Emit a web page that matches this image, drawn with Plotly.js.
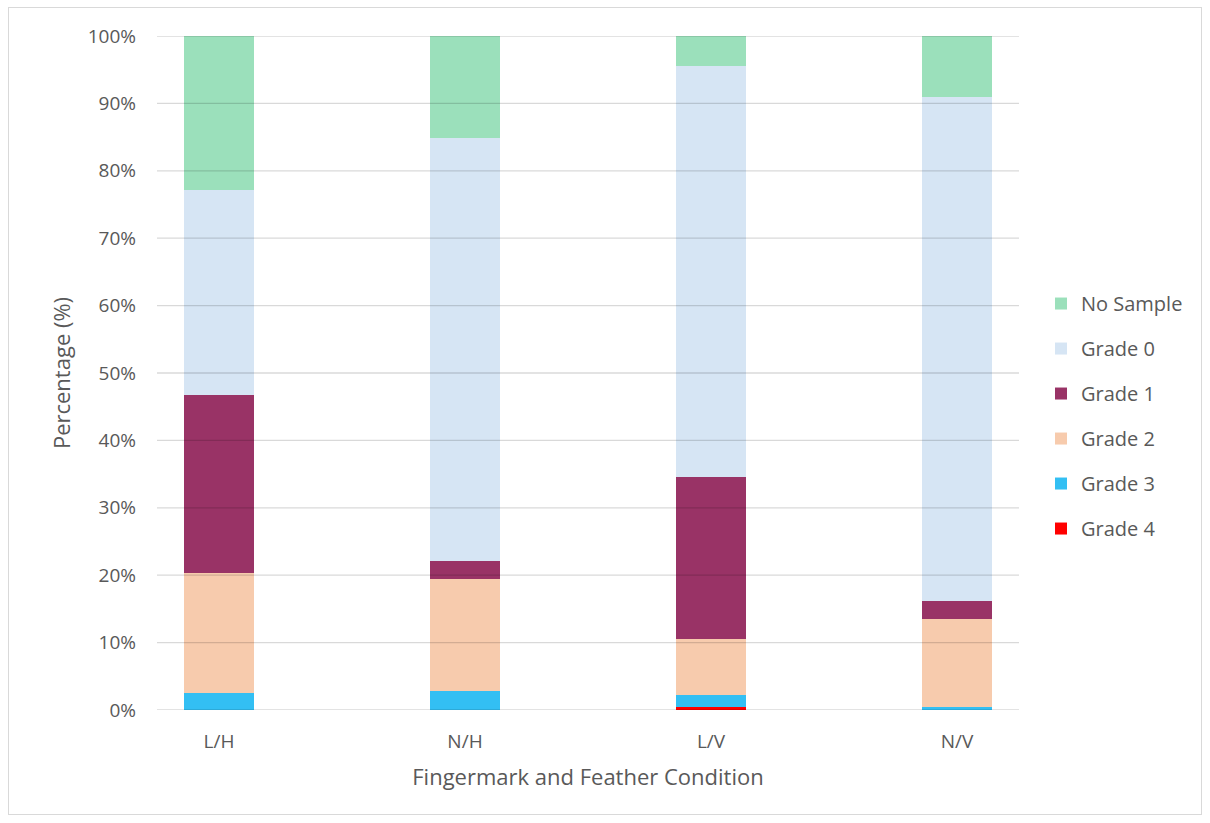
<!DOCTYPE html>
<html>
<head>
<meta charset="utf-8">
<script src="https://cdn.plot.ly/plotly-3.0.1.min.js"></script>
<style>
  html, body { margin: 0; padding: 0; background: #fff; }
  #wrap { position: relative; width: 1210px; height: 823px; }
  #chart { width: 1210px; height: 823px; }
  #frame { position: absolute; left: 8px; top: 7px; width: 1194px; height: 808px;
           border: 1px solid #d9d9d9; pointer-events: none; box-sizing: border-box; }
</style>
</head>
<body>
<div id="wrap">
  <div id="chart"></div>
  <div id="frame"></div>
</div>
<script>
const categories = ["L/H", "N/H", "L/V", "N/V"];
const grade4   = [0.0, 0.0, 0.4, 0.0];
const grade3   = [2.5, 2.8, 1.8, 0.4];
const grade2   = [17.8, 16.6, 8.3, 13.1];
const grade1   = [26.5, 2.7, 24.1, 2.7];
const grade0   = [30.3, 62.7, 60.9, 74.8];
const noSample = [22.9, 15.2, 4.5, 9.0];
const yTickVals = [0, 10, 20, 30, 40, 50, 60, 70, 80, 90, 100];
const yTickText = ["0%", "10%", "20%", "30%", "40%", "50%", "60%", "70%", "80%", "90%", "100%"];

const series = [
  { name: "Grade 4",   y: grade4,   color: "#FF0000" },
  { name: "Grade 3",   y: grade3,   color: "#33BFF3" },
  { name: "Grade 2",   y: grade2,   color: "#F7CBAD" },
  { name: "Grade 1",   y: grade1,   color: "#993366" },
  { name: "Grade 0",   y: grade0,   color: "#D6E5F4" },
  { name: "No Sample", y: noSample, color: "#9BE0BB" }
];

const textColor = "#595959";
const fontFam = "'Open Sans', 'Noto Sans', sans-serif";

const traces = series.map((s, i) => ({
  type: "bar",
  name: s.name,
  x: categories,
  y: s.y,
  legendgroup: s.name,
  legendrank: 1000 - i,
  marker: { color: s.color, line: { width: 0 } },
  hoverinfo: "name+y"
}));

const gridShapes = yTickVals.map(v => ({
  type: "line", xref: "paper", yref: "y",
  x0: 0, x1: 1, y0: v, y1: v,
  line: { color: "rgba(0,0,0,0.15)", width: 1.3 },
  layer: "above"
}));

const layout = {
  width: 1210, height: 823,
  margin: { l: 157, r: 191, t: 36, b: 113, pad: 0 },
  paper_bgcolor: "#ffffff",
  plot_bgcolor: "#ffffff",
  barmode: "stack",
  bargap: 0.715,
  font: { family: fontFam, size: 19, color: textColor },
  showlegend: true,
  legend: {
    x: 1.0255, xanchor: "left",
    y: 0.632, yanchor: "top",
    traceorder: "grouped",
    tracegroupgap: 16,
    font: { family: fontFam, size: 20, color: textColor },
    bgcolor: "rgba(0,0,0,0)",
    itemclick: false
  },
  xaxis: {
    type: "category",
    range: [-0.252, 3.252],
    showgrid: false,
    showline: false,
    zeroline: false,
    ticks: "",
    ticklabelstandoff: 18,
    tickfont: { family: fontFam, size: 19, color: textColor },
    title: { text: "Fingermark and Feather Condition", standoff: 16,
             font: { family: fontFam, size: 22, color: textColor } },
    fixedrange: true
  },
  yaxis: {
    range: [0, 100],
    tickvals: yTickVals,
    ticktext: yTickText,
    showgrid: false,
    zeroline: false,
    showline: false,
    ticks: "",
    ticklabelstandoff: 20,
    tickfont: { family: fontFam, size: 19, color: textColor },
    title: { text: "Percentage (%)", standoff: 10,
             font: { family: fontFam, size: 22, color: textColor } },
    fixedrange: true
  },
  shapes: gridShapes
};

Plotly.newPlot("chart", traces, layout, { displayModeBar: false, staticPlot: true });
</script>
</body>
</html>
